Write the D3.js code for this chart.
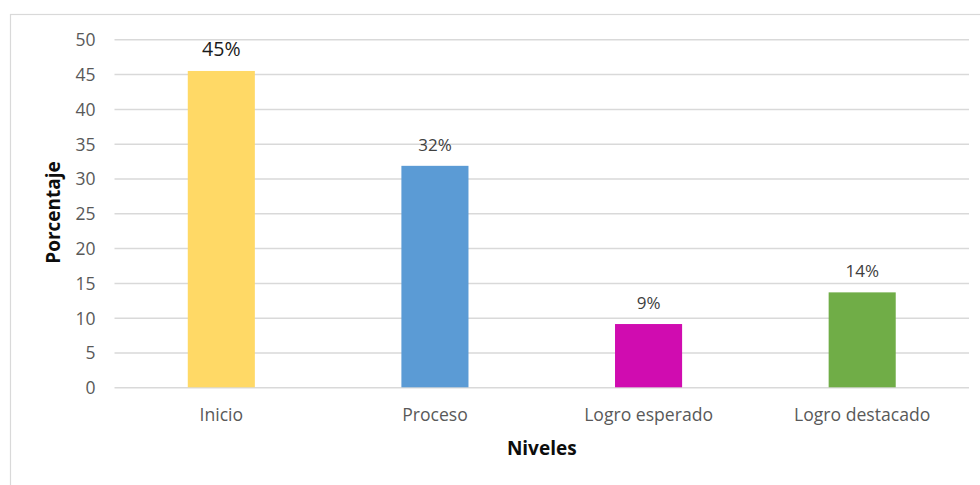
<!DOCTYPE html>
<html>
<head>
<meta charset="utf-8">
<script src="https://cdn.jsdelivr.net/npm/d3@7"></script>
<style>
html,body{margin:0;padding:0;background:#fff;}
svg{display:block;font-family:"Open Sans",Lato,sans-serif;}
</style>
</head>
<body>
<svg id="chart" width="980" height="485"></svg>
<script>
const categories = ["Inicio", "Proceso", "Logro esperado", "Logro destacado"];
const values = [45.45, 31.82, 9.09, 13.64];
const valueLabels = ["45%", "32%", "9%", "14%"];
const colors = ["#FFD966", "#5B9BD5", "#D00CB0", "#70AD47"];
const yTicks = [0, 5, 10, 15, 20, 25, 30, 35, 40, 45, 50];

const svg = d3.select("#chart");
const W = 980, H = 485;
const plot = {left: 114.5, right: 969, top: 39.3, bottom: 387.3};
const FONT = "'Open Sans', Lato, sans-serif";

// outer border
svg.append("rect")
  .attr("x", 10.5).attr("y", 14.5)
  .attr("width", W + 10).attr("height", H + 10)
  .attr("fill", "none").attr("stroke", "#d9d9d9").attr("stroke-width", 1.2);

const x = d3.scaleBand().domain(categories)
  .range([plot.left, plot.right])
  .paddingInner(0.686).paddingOuter(0.343);
const y = d3.scaleLinear().domain([0, 50]).range([plot.bottom, plot.top]);

// gridlines + y tick labels
const yAxis = d3.axisLeft(y).tickValues(yTicks)
  .tickSize(-(plot.right - plot.left)).tickPadding(20);
const gy = svg.append("g").attr("transform", `translate(${plot.left},0)`).call(yAxis);
gy.select(".domain").remove();
gy.selectAll(".tick line").attr("stroke", "#d9d9d9").attr("stroke-width", 1.5);
gy.selectAll(".tick text").attr("fill", "#595959")
  .style("font-size", "17.5px").style("font-family", FONT)
  .attr("x", -19).attr("dy", "0.36em");

// bars
svg.append("g").selectAll("rect").data(values).join("rect")
  .attr("x", (d, i) => x(categories[i]))
  .attr("width", x.bandwidth())
  .attr("y", d => y(d))
  .attr("height", d => y(0) - y(d))
  .attr("fill", (d, i) => colors[i]);

// value labels
svg.append("g").selectAll("text").data(values).join("text")
  .attr("x", (d, i) => x(categories[i]) + x.bandwidth() / 2)
  .attr("y", d => y(d) - 15)
  .attr("text-anchor", "middle")
  .attr("fill", (d, i) => i === 0 ? "#1a1a1a" : "#404040")
  .style("font-size", (d, i) => i === 0 ? "19.5px" : "17px")
  .style("font-family", FONT)
  .text((d, i) => valueLabels[i]);

// x axis category labels
const xAxis = d3.axisBottom(x).tickSize(0).tickPadding(0);
const gx = svg.append("g").attr("transform", `translate(0,${plot.bottom})`).call(xAxis);
gx.select(".domain").remove();
gx.selectAll(".tick text").attr("fill", "#595959")
  .style("font-size", "17.6px").style("font-family", FONT)
  .attr("y", 34).attr("dy", 0);

// axis titles
svg.append("text")
  .attr("x", (plot.left + plot.right) / 2).attr("y", 455)
  .attr("text-anchor", "middle").attr("fill", "#0d0d0d")
  .style("font-size", "19px").style("font-weight", "bold").style("font-family", FONT)
  .text("Niveles");

svg.append("text")
  .attr("transform", "translate(60,212.5) rotate(-90)")
  .attr("text-anchor", "middle").attr("fill", "#0d0d0d")
  .style("font-size", "19px").style("font-weight", "bold").style("font-family", FONT)
  .text("Porcentaje");
</script>
</body>
</html>
